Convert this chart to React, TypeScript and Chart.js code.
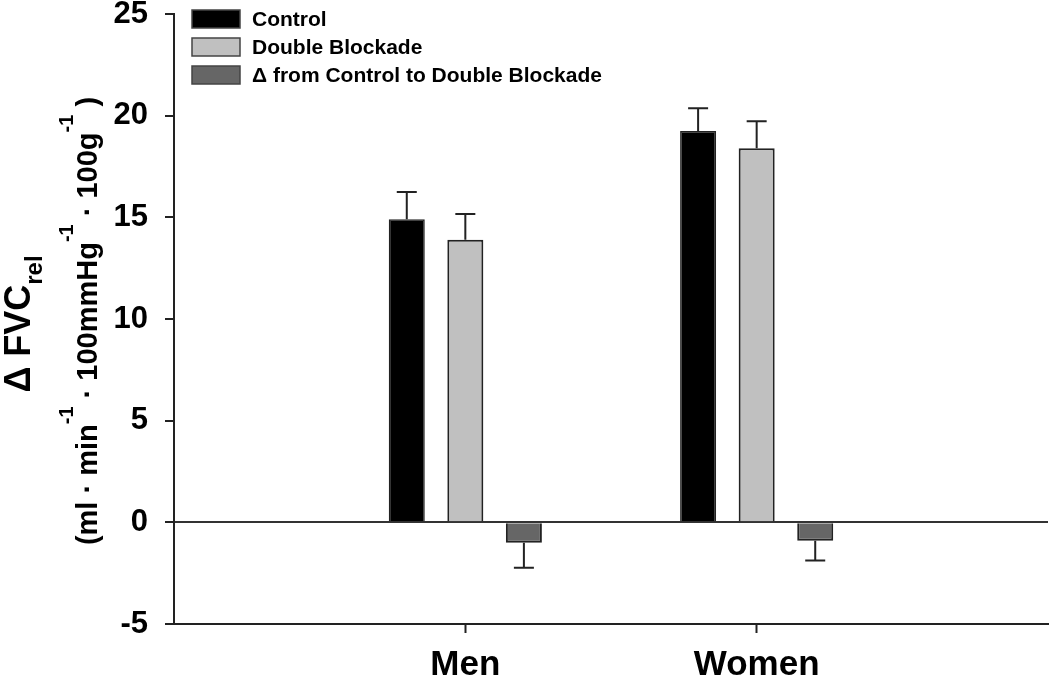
import React, { useEffect, useRef } from 'react';
import { Chart, registerables } from 'chart.js';

Chart.register(...registerables);

// ---- data ----
const groups = ['Men', 'Women'];
const seriesNames = ['Control', 'Double Blockade', 'Δ from Control to Double Blockade'];
const controlMeans = [14.9, 19.25];
const controlErr = [1.35, 1.12];
const blockadeMeans = [13.9, 18.4];
const blockadeErr = [1.27, 1.33];
const deltaMeans = [-1.0, -0.9];
const deltaErr = [1.23, 0.98];
const yMin = -5;
const yMax = 25;
const yStep = 5;

const FONT = '"Liberation Sans", Arial, Helvetica, sans-serif';

const pad = (v: number[]) => [null, ...v, null];
const labels = ['', ...groups, ''];
const errorsBySeries = [pad(controlErr), pad(blockadeErr), pad(deltaErr)];

type Run = { t: string; k: 'n' | 'sup' | 'sub' };

function drawRotatedRuns(
  ctx: CanvasRenderingContext2D,
  runs: Run[],
  baseX: number,
  centerY: number,
  size: number,
  smallSize: number,
  supShift: number,
  subShift: number
) {
  ctx.save();
  ctx.translate(baseX, centerY);
  ctx.rotate(-Math.PI / 2);
  ctx.fillStyle = '#000';
  ctx.textBaseline = 'alphabetic';
  ctx.textAlign = 'left';
  const fontFor = (r: Run) => `bold ${r.k === 'n' ? size : smallSize}px ${FONT}`;
  let total = 0;
  const widths = runs.map((r) => {
    ctx.font = fontFor(r);
    const w = ctx.measureText(r.t).width;
    total += w;
    return w;
  });
  let x = -total / 2;
  runs.forEach((r, i) => {
    ctx.font = fontFor(r);
    const dy = r.k === 'sup' ? supShift : r.k === 'sub' ? subShift : 0;
    ctx.fillText(r.t, x, dy);
    x += widths[i];
  });
  ctx.restore();
}

const annotationsPlugin = {
  id: 'annotations',
  afterDatasetsDraw(chart: any) {
    const ctx: CanvasRenderingContext2D = chart.ctx;
    const yScale = chart.scales.y;
    // error bars
    chart.data.datasets.forEach((ds: any, di: number) => {
      const meta = chart.getDatasetMeta(di);
      meta.data.forEach((bar: any, i: number) => {
        const v = ds.data[i];
        const e = errorsBySeries[di][i];
        if (v == null || e == null) return;
        const end = v >= 0 ? v + e : v - e;
        const yv = yScale.getPixelForValue(v);
        const ye = yScale.getPixelForValue(end);
        ctx.save();
        ctx.strokeStyle = '#222';
        ctx.lineWidth = 2;
        ctx.beginPath();
        ctx.moveTo(bar.x, yv);
        ctx.lineTo(bar.x, ye);
        ctx.moveTo(bar.x - 10, ye);
        ctx.lineTo(bar.x + 10, ye);
        ctx.stroke();
        ctx.restore();
      });
    });
    // legend
    const area = chart.chartArea;
    const lx = area.left + 18;
    const ly = area.top - 4;
    chart.data.datasets.forEach((ds: any, di: number) => {
      const top = ly + di * 28;
      ctx.save();
      ctx.fillStyle = ds.backgroundColor;
      ctx.fillRect(lx, top, 48, 18);
      ctx.strokeStyle = '#444';
      ctx.lineWidth = 1.5;
      ctx.strokeRect(lx, top, 48, 18);
      ctx.fillStyle = '#000';
      ctx.font = `bold 21px ${FONT}`;
      ctx.textBaseline = 'middle';
      ctx.textAlign = 'left';
      ctx.fillText(ds.label, lx + 60, top + 10);
      ctx.restore();
    });
    // y axis title
    drawRotatedRuns(
      ctx,
      [
        { t: 'Δ FVC', k: 'n' },
        { t: 'rel', k: 'sub' },
      ],
      30,
      324,
      36,
      24,
      0,
      12
    );
    drawRotatedRuns(
      ctx,
      [
        { t: '(ml · min', k: 'n' },
        { t: '-1', k: 'sup' },
        { t: ' · 100mmHg', k: 'n' },
        { t: '-1', k: 'sup' },
        { t: ' · 100g', k: 'n' },
        { t: '-1', k: 'sup' },
        { t: ' )', k: 'n' },
      ],
      97,
      321,
      29,
      20,
      -24,
      0
    );
  },
};

export default function App() {
  const ref = useRef<HTMLCanvasElement | null>(null);
  useEffect(() => {
    if (!ref.current) return;
    const chart = new Chart(ref.current, {
      type: 'bar',
      data: {
        labels,
        datasets: [
          {
            label: seriesNames[0],
            data: pad(controlMeans),
            backgroundColor: '#000000',
            borderColor: '#222',
            borderWidth: 1.5,
          },
          {
            label: seriesNames[1],
            data: pad(blockadeMeans),
            backgroundColor: '#c0c0c0',
            borderColor: '#222',
            borderWidth: 2,
          },
          {
            label: seriesNames[2],
            data: pad(deltaMeans),
            backgroundColor: '#666666',
            borderColor: '#222',
            borderWidth: 2,
          },
        ] as any,
      },
      options: {
        responsive: false,
        animation: false,
        categoryPercentage: 0.603,
        barPercentage: 0.615,
        layout: { padding: { top: 14, right: 2, left: 0, bottom: 0 } },
        plugins: {
          legend: { display: false },
          tooltip: { enabled: false },
          title: { display: false },
        },
        scales: {
          x: {
            type: 'category',
            offset: false,
            grid: {
              offset: false,
              drawOnChartArea: false,
              drawTicks: true,
              tickLength: 9,
              tickWidth: 2,
              tickColor: (c: any) => (c.index === 1 || c.index === 2 ? '#222' : 'rgba(0,0,0,0)'),
            },
            border: { display: true, color: '#222', width: 2 },
            ticks: {
              autoSkip: false,
              maxRotation: 0,
              minRotation: 0,
              padding: 11,
              color: '#000',
              font: { family: FONT, size: 35, weight: 'bold' },
            },
            afterFit: (s: any) => {
              s.height = 55;
              s.paddingLeft = 0;
              s.paddingRight = 0;
            },
          },
          y: {
            min: yMin,
            max: yMax,
            ticks: {
              stepSize: yStep,
              padding: 17,
              color: '#000',
              font: { family: FONT, size: 31, weight: 'bold' },
            },
            grid: {
              drawOnChartArea: true,
              color: (c: any) => (c.tick && c.tick.value === 0 ? '#333' : 'rgba(0,0,0,0)'),
              lineWidth: 2,
              tickLength: 9,
              tickWidth: 2,
              tickColor: '#222',
            },
            border: { display: true, color: '#222', width: 2 },
            afterFit: (s: any) => {
              s.width = 174;
              s.paddingTop = 0;
              s.paddingBottom = 0;
            },
          },
        },
      } as any,
      plugins: [annotationsPlugin],
    });
    return () => chart.destroy();
  }, []);
  return (
    <div style={{ position: 'absolute', left: 0, top: 0, width: 1050, height: 679, background: '#fff' }}>
      <canvas ref={ref} width={1050} height={679} style={{ display: 'block' }} />
    </div>
  );
}
